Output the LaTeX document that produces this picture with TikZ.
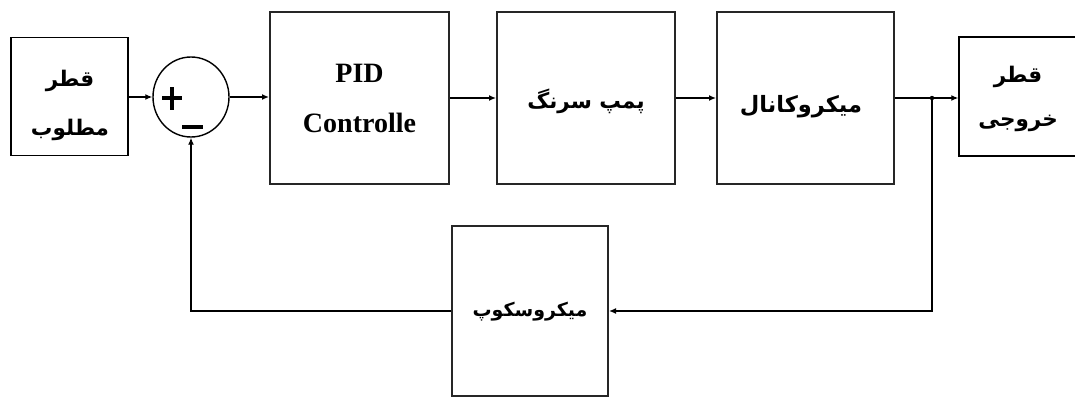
\documentclass[tikz,border=0pt]{standalone}
\usepackage{fontspec}
\usetikzlibrary{arrows.meta,shapes.geometric,calc}
\newfontfamily\fa[Script=Arabic]{DejaVu Sans}
\newfontfamily\tnr{Liberation Serif}
\TeXXeTstate=1
\begin{document}
\begin{tikzpicture}[x=1pt,y=-1pt,
  smallbox/.style={draw=black,line width=1.4pt,inner sep=0pt,
    minimum width=#1,minimum height=118pt,align=center},
  bigbox/.style={draw=black!85,line width=2pt,inner sep=0pt,
    minimum height=172pt,minimum width=#1,align=center},
  falabel/.style={font=\fa\bfseries\fontsize{21.5}{49}\selectfont},
  bar/.style={fill=black,inner sep=0pt},
  conn/.style={line width=1.3pt,-{Latex[length=7pt,width=6pt]}},
  plain/.style={line width=1.3pt}]
\useasboundingbox (0,0) rectangle (1075,396);
\fill[white] (0,0) rectangle (1075,396);
% blocks
\node[smallbox=117pt] (in) at (69.5,96.5) {};
\node[falabel,align=center] (intext) at (70,105) {\beginR قطر\endR\\\beginR مطلوب\endR};
\node[draw=black,line width=1.4pt,ellipse,minimum width=76pt,minimum height=80pt,inner sep=0pt] (sum) at (191,97) {};
\node[bar,minimum width=20pt,minimum height=4pt] (plush) at (172,98) {};
\node[bar,minimum width=4pt,minimum height=23pt] (plusv) at (172,98) {};
\node[bar,minimum width=21pt,minimum height=4pt] (minus) at (192.5,127) {};
\node[bigbox=179pt,font=\tnr\bfseries\fontsize{28}{50}\selectfont] (pid) at (359.5,98) {PID\\Controlle};
\node[bigbox=178pt] (pump) at (586,98) {};
\node[falabel] (pumptext) at (586,101) {\beginR پمپ سرنگ\endR};
\node[bigbox=177pt] (mic) at (805.5,98) {};
\node[falabel,font=\fa\bfseries\fontsize{22.5}{49}\selectfont] (mictext) at (801,107) {\beginR میکروکانال\endR};
\node[smallbox=121pt,minimum height=119pt] (out) at (1019.5,96.5) {};
\node[falabel,align=center,font=\fa\bfseries\fontsize{21.5}{44}\selectfont] (outtext) at (1018,99) {\beginR قطر\endR\\\beginR خروجی\endR};
\node[bigbox=156pt,minimum height=170pt] (scope) at (530,311) {};
\node[falabel,font=\fa\bfseries\fontsize{19}{40}\selectfont] (scopetext) at (530,312) {\beginR میکروسکوپ\endR};
\coordinate (j) at (932,98);
% connectors
\draw[conn] (in.east |- sum.west) -- (sum.west);
\draw[conn] (sum.east) -- (sum.east -| pid.west);
\draw[conn] (pid.east) -- (pump.west);
\draw[conn] (pump.east) -- (mic.west);
\draw[plain] (mic.east) -- (j);
\draw[conn] (j) -- (j -| out.west);
\fill (j) circle (2.2pt);
\draw[conn] (j) |- (scope.east);
\draw[conn] (scope.west) -| (sum.south);
\end{tikzpicture}
\end{document}
